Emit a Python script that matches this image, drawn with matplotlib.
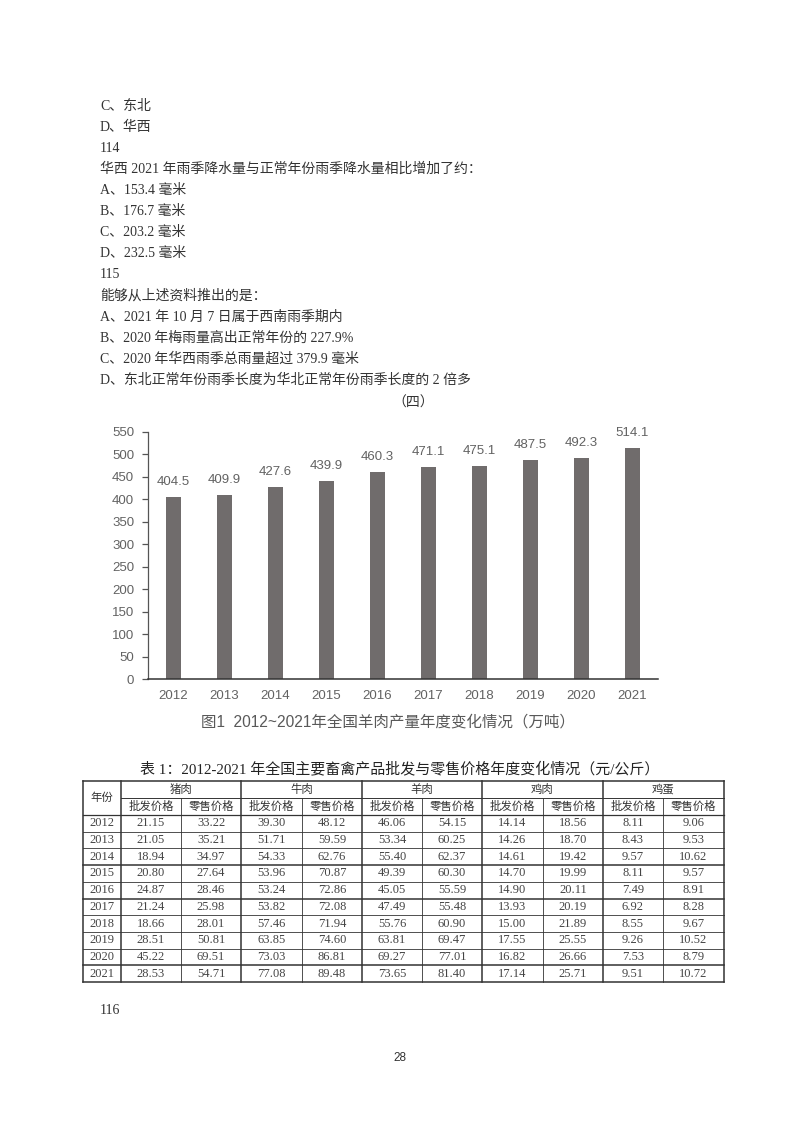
import matplotlib
matplotlib.use("Agg")
import matplotlib.pyplot as plt

# ---------------- data ----------------
body_lines = [
    "C、东北",
    "D、华西",
    "114",
    "华西 2021 年雨季降水量与正常年份雨季降水量相比增加了约：",
    "A、153.4 毫米",
    "B、176.7 毫米",
    "C、203.2 毫米",
    "D、232.5 毫米",
    "115",
    "能够从上述资料推出的是：",
    "A、2021 年 10 月 7 日属于西南雨季期内",
    "B、2020 年梅雨量高出正常年份的 227.9%",
    "C、2020 年华西雨季总雨量超过 379.9 毫米",
    "D、东北正常年份雨季长度为华北正常年份雨季长度的 2 倍多",
]
section_label = "（四）"

years = ["2012", "2013", "2014", "2015", "2016", "2017", "2018", "2019", "2020", "2021"]
mutton_output = [404.5, 409.9, 427.6, 439.9, 460.3, 471.1, 475.1, 487.5, 492.3, 514.1]
yticks = [0, 50, 100, 150, 200, 250, 300, 350, 400, 450, 500, 550]
chart_caption = "图1  2012~2021年全国羊肉产量年度变化情况（万吨）"

table_title = "表 1：2012-2021 年全国主要畜禽产品批发与零售价格年度变化情况（元/公斤）"
products = ["猪肉", "牛肉", "羊肉", "鸡肉", "鸡蛋"]
sub_headers = ["批发价格", "零售价格"]
pork_wholesale = [21.15, 21.05, 18.94, 20.80, 24.87, 21.24, 18.66, 28.51, 45.22, 28.53]
pork_retail = [33.22, 35.21, 34.97, 27.64, 28.46, 25.98, 28.01, 50.81, 69.51, 54.71]
beef_wholesale = [39.30, 51.71, 54.33, 53.96, 53.24, 53.82, 57.46, 63.85, 73.03, 77.08]
beef_retail = [48.12, 59.59, 62.76, 70.87, 72.86, 72.08, 71.94, 74.60, 86.81, 89.48]
mutton_wholesale = [46.06, 53.34, 55.40, 49.39, 45.05, 47.49, 55.76, 63.81, 69.27, 73.65]
mutton_retail = [54.15, 60.25, 62.37, 60.30, 55.59, 55.48, 60.90, 69.47, 77.01, 81.40]
chicken_wholesale = [14.14, 14.26, 14.61, 14.70, 14.90, 13.93, 15.00, 17.55, 16.82, 17.14]
chicken_retail = [18.56, 18.70, 19.42, 19.99, 20.11, 20.19, 21.89, 25.55, 26.66, 25.71]
egg_wholesale = [8.11, 8.43, 9.57, 8.11, 7.49, 6.92, 8.55, 9.26, 7.53, 9.51]
egg_retail = [9.06, 9.53, 10.62, 9.57, 8.91, 8.28, 9.67, 10.52, 8.79, 10.72]
footer_question = "116"
page_number = "28"

# ---------------- figure ----------------
W, H = 800, 1132
fig = plt.figure(figsize=(W / 100, H / 100), dpi=100)
fig.patch.set_facecolor("white")

page = fig.add_axes([0, 0, 1, 1])
page.set_xlim(0, W)
page.set_ylim(H, 0)
page.axis("off")

serif_fam = ["Liberation Serif", "Noto Sans CJK SC"]
sans_fam = ["Liberation Sans", "Noto Sans CJK SC"]
txt_col = "#333333"
body_fs = 10

# body text
y0, dy = 106, 21.1
for i, line in enumerate(body_lines):
    page.text(100, y0 + i * dy, line, fontsize=body_fs, family=serif_fam,
              color=txt_col, va="center", ha="left")
page.text(413, 403, section_label, fontsize=body_fs, family=serif_fam,
          color=txt_col, va="center", ha="center")

# ---------------- bar chart ----------------
ax_left, ax_right = 148, 658
ax_top, ax_bottom = 432, 679
ax = fig.add_axes([ax_left / W, 1 - ax_bottom / H,
                   (ax_right - ax_left) / W, (ax_bottom - ax_top) / H])
ax.patch.set_alpha(0)
xs = range(len(years))
ax.bar(xs, mutton_output, width=0.31, color="#706c6c")
ax.set_xlim(-0.5, len(years) - 0.5)
ax.set_ylim(0, 550)
ax.set_yticks(yticks)
ax.set_xticks(list(xs))
ax.set_xticklabels(years)
for s in ["top", "right"]:
    ax.spines[s].set_visible(False)
ax.spines["left"].set_color("#555555")
ax.spines["left"].set_linewidth(0.9)
ax.spines["bottom"].set_color("#333333")
ax.spines["bottom"].set_linewidth(1.1)
ax.tick_params(axis="y", length=4, width=0.9, color="#555555",
               labelsize=9.5, labelcolor="#626262", pad=6)
ax.tick_params(axis="x", length=0, labelsize=9.5, labelcolor="#626262", pad=8)
for lab in ax.get_xticklabels() + ax.get_yticklabels():
    lab.set_family(sans_fam)
for x, v in zip(xs, mutton_output):
    ax.annotate(f"{v:.1f}", (x, v), xytext=(0, 6.5), textcoords="offset points",
                ha="center", va="bottom", fontsize=9.5, color="#626262",
                family=sans_fam)

page.text(388, 722, chart_caption, fontsize=11.2, family=sans_fam,
          color="#595959", va="center", ha="center")

# ---------------- table ----------------
page.text(400, 769, table_title, fontsize=10.8, family=serif_fam,
          color="#222222", va="center", ha="center")

col_edges = [83, 121, 181, 241, 302, 362, 422, 482, 543, 603, 663, 724]
t_top, t_mid, t_head = 781, 798, 815
t_bot = 982
nrows = len(years)
row_h = (t_bot - t_head) / nrows
line_col = "#333333"

columns = [pork_wholesale, pork_retail, beef_wholesale, beef_retail,
           mutton_wholesale, mutton_retail, chicken_wholesale, chicken_retail,
           egg_wholesale, egg_retail]

# horizontal lines
page.plot([col_edges[0], col_edges[-1]], [t_top, t_top], color=line_col, lw=1.1)
page.plot([col_edges[1], col_edges[-1]], [t_mid, t_mid], color=line_col, lw=0.7)
page.plot([col_edges[0], col_edges[-1]], [t_head, t_head], color=line_col, lw=0.9)
thick_after = {2, 4, 8}
for r in range(1, nrows + 1):
    y = t_head + r * row_h
    lw = 1.1 if (r - 1) in thick_after or r == nrows else 0.6
    page.plot([col_edges[0], col_edges[-1]], [y, y], color=line_col, lw=lw)
# vertical lines
for j, x in enumerate(col_edges):
    if j in (0, len(col_edges) - 1) or j % 2 == 1:
        page.plot([x, x], [t_top, t_bot], color=line_col, lw=1.1)
    else:
        page.plot([x, x], [t_mid, t_bot], color=line_col, lw=0.6)

head_fs = 8.2
num_fs = 9
page.text((col_edges[0] + col_edges[1]) / 2, (t_top + t_head) / 2, "年份",
          fontsize=head_fs, family=serif_fam, color=txt_col, ha="center", va="center")
for k, p in enumerate(products):
    xa, xb = col_edges[1 + 2 * k], col_edges[3 + 2 * k]
    page.text((xa + xb) / 2, (t_top + t_mid) / 2, p, fontsize=head_fs,
              family=serif_fam, color=txt_col, ha="center", va="center")
    for m in range(2):
        c0, c1 = col_edges[1 + 2 * k + m], col_edges[2 + 2 * k + m]
        page.text((c0 + c1) / 2, (t_mid + t_head) / 2, sub_headers[m],
                  fontsize=head_fs, family=serif_fam, color=txt_col,
                  ha="center", va="center")
for r, yr in enumerate(years):
    yc = t_head + (r + 0.5) * row_h
    page.text((col_edges[0] + col_edges[1]) / 2, yc, yr, fontsize=num_fs,
              family=serif_fam, color="#444444", ha="center", va="center")
    for c, col in enumerate(columns):
        x = (col_edges[1 + c] + col_edges[2 + c]) / 2
        page.text(x, yc, f"{col[r]:.2f}", fontsize=num_fs, family=serif_fam,
                  color="#444444", ha="center", va="center")

page.text(100, 1010, footer_question, fontsize=body_fs, family=serif_fam,
          color=txt_col, va="center", ha="left")
page.text(400, 1058, page_number, fontsize=8.5, family=sans_fam,
          color="#333333", va="center", ha="center")

fig.savefig("out.png", dpi=100, facecolor="white")
